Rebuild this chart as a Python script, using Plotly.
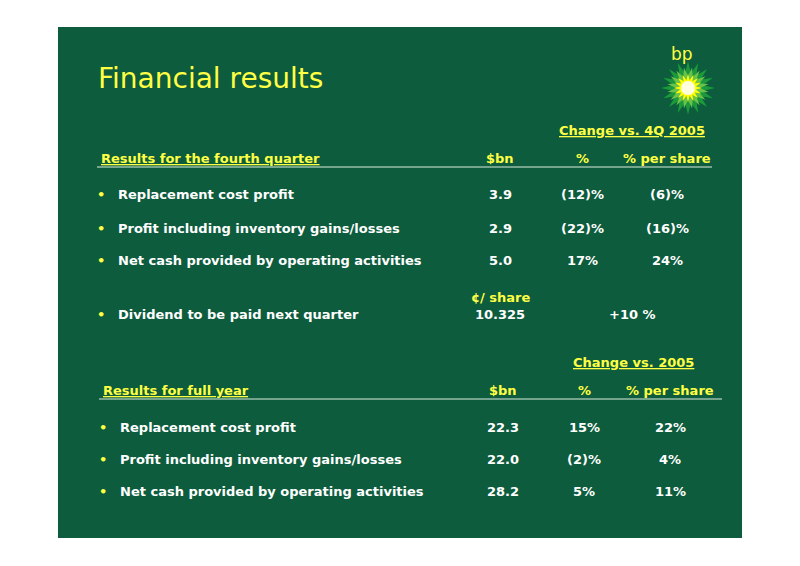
import plotly.graph_objects as go
import math

q_labels = ["Replacement cost profit", "Profit including inventory gains/losses", "Net cash provided by operating activities"]
q_bn = ["3.9", "2.9", "5.0"]
q_pct = ["(12)%", "(22)%", "17%"]
q_pps = ["(6)%", "(16)%", "24%"]
div_label = "Dividend to be paid next quarter"
div_value = "10.325"
div_change = "+10 %"
fy_labels = ["Replacement cost profit", "Profit including inventory gains/losses", "Net cash provided by operating activities"]
fy_bn = ["22.3", "22.0", "28.2"]
fy_pct = ["15%", "(2)%", "5%"]
fy_pps = ["22%", "4%", "11%"]

GREEN = "#0c5c3d"
YEL = "#ffff44"
WHITE = "#ffffff"
FONT = "DejaVu Sans"

fig = go.Figure()
shapes = [dict(type="rect", x0=58, x1=742, y0=27, y1=538, fillcolor=GREEN, line_width=0, layer="below")]
ann = []

def t(x, y, s, color=WHITE, size=13, anchor="left", bold=True):
    ann.append(dict(x=x, y=y, text=("<b>%s</b>" % s) if bold else s, showarrow=False,
                    xanchor=anchor, yanchor="middle", font=dict(family=FONT, size=size, color=color)))

t(96, 78, "Financial results", YEL, 28, bold=False)
t(682, 54, "bp", YEL, 17, "center", bold=False)

# logo
cx, cy = 688, 88
for r_out, r_in, col, n, off in [(27, 15, "#1a9a3a", 16, 0), (21, 12, "#6cc24a", 16, math.pi/16), (14, 8, "#ffff00", 16, 0)]:
    pts = []
    for k in range(2*n):
        r = r_out if k % 2 == 0 else r_in
        a = off + k*math.pi/n
        pts.append("%.1f,%.1f" % (cx + r*math.cos(a), cy + r*math.sin(a)))
    shapes.append(dict(type="path", path="M" + " L".join(pts) + " Z", fillcolor=col, line_width=0))
shapes.append(dict(type="circle", x0=cx-7, x1=cx+7, y0=cy-7, y1=cy+7, fillcolor="#ffffdd", line_width=0))

# Q4 section
t(632, 130, "<u>Change vs. 4Q 2005</u>", YEL, 13, "center")
t(99, 158, "<u>Results for the fourth quarter</u>", YEL, 13)
t(500, 158, "$bn", YEL, 13, "center")
t(582, 158, "%", YEL, 13, "center")
t(667, 158, "% per share", YEL, 13, "center")
shapes.append(dict(type="line", x0=97, x1=712, y0=167, y1=167, line=dict(color="#ddeedd", width=1)))
for i, y in enumerate([194, 228, 260]):
    t(101, y, "•", YEL, 13, "center")
    t(116, y, q_labels[i])
    t(500, y, q_bn[i], anchor="center")
    t(582, y, q_pct[i], anchor="center")
    t(667, y, q_pps[i], anchor="center")
t(500, 297, "¢/ share", YEL, 13, "center")
t(101, 314, "•", YEL, 13, "center")
t(116, 314, div_label)
t(500, 314, div_value, anchor="center")
t(632, 314, div_change, anchor="center")

# FY section
t(633, 362, "<u>Change vs. 2005</u>", YEL, 13, "center")
t(101, 390, "<u>Results for full year</u>", YEL, 13)
t(503, 390, "$bn", YEL, 13, "center")
t(584, 390, "%", YEL, 13, "center")
t(670, 390, "% per share", YEL, 13, "center")
shapes.append(dict(type="line", x0=99, x1=722, y0=399, y1=399, line=dict(color="#ddeedd", width=1)))
for i, y in enumerate([427, 459, 491]):
    t(103, y, "•", YEL, 13, "center")
    t(118, y, fy_labels[i])
    t(503, y, fy_bn[i], anchor="center")
    t(584, y, fy_pct[i], anchor="center")
    t(670, y, fy_pps[i], anchor="center")

# page has an 8px body margin; shift the coordinate frame to compensate
fig.update_layout(width=800, height=566, margin=dict(l=0, r=0, t=0, b=0),
                  paper_bgcolor="white", plot_bgcolor="white", shapes=shapes, annotations=ann,
                  xaxis=dict(range=[8, 808], visible=False, fixedrange=True),
                  yaxis=dict(range=[574, 8], visible=False, fixedrange=True), showlegend=False)
fig.write_html("out.html", config={"displayModeBar": False})
